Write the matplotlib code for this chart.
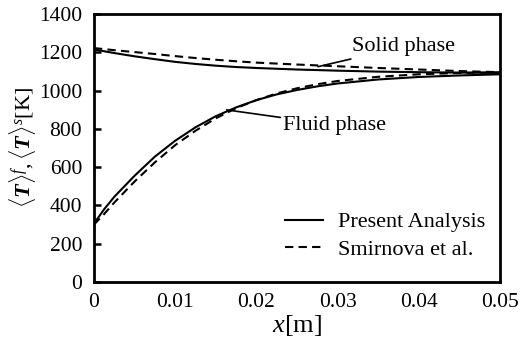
import matplotlib
matplotlib.use("Agg")
import matplotlib.pyplot as plt

plt.rcParams['font.family'] = ['Liberation Serif', 'DejaVu Serif']
plt.rcParams['mathtext.fontset'] = 'custom'
plt.rcParams['mathtext.rm'] = 'Liberation Serif'
plt.rcParams['mathtext.it'] = 'Liberation Serif:italic'
plt.rcParams['mathtext.bf'] = 'Liberation Serif:bold:italic'

# Data
x_solid = [0, 0.0025, 0.005, 0.0075, 0.01, 0.0125, 0.015, 0.0175, 0.02, 0.025, 0.03, 0.035, 0.04, 0.045, 0.05]
present_solid = [1215, 1196, 1179, 1164, 1150, 1139, 1130, 1123, 1118, 1110, 1104, 1099, 1096, 1094, 1092]
smirnova_solid = [1222, 1211, 1201, 1191, 1180, 1170, 1161, 1153, 1146, 1136, 1127, 1118, 1110, 1102, 1096]

x_fluid = [0, 0.00125, 0.0025, 0.005, 0.0075, 0.01, 0.0125, 0.015, 0.0175, 0.02, 0.0225,
           0.025, 0.0275, 0.03, 0.035, 0.04, 0.045, 0.05]
present_fluid = [305, 380, 445, 555, 655, 738, 808, 866, 912, 950, 980,
                 1003, 1022, 1037, 1058, 1071, 1079, 1085]
smirnova_fluid = [300, 355, 415, 525, 625, 715, 790, 855, 908, 950, 985,
                  1012, 1033, 1050, 1072, 1085, 1092, 1096]

xticks = [0, 0.01, 0.02, 0.03, 0.04, 0.05]
xticklabels = ['0', '0.01', '0.02', '0.03', '0.04', '0.05']
yticks = [0, 200, 400, 600, 800, 1000, 1200, 1400]

fig = plt.figure(figsize=(5.23, 3.5), dpi=100)
ax = fig.add_axes([0.1797, 0.1943, 0.956 - 0.1797, 0.96 - 0.1943])

lw = 1.5
dash = (0, (4, 2.5))
ax.plot(x_solid, present_solid, color='black', lw=lw, label='Present Analysis')
ax.plot(x_solid, smirnova_solid, color='black', lw=lw, ls=dash, label='Smirnova et al.')
ax.plot(x_fluid, present_fluid, color='black', lw=lw)
ax.plot(x_fluid, smirnova_fluid, color='black', lw=lw, ls=dash)

ax.set_xlim(0, 0.05)
ax.set_ylim(0, 1400)
ax.set_xticks(xticks)
ax.set_xticklabels(xticklabels)
ax.set_yticks(yticks)
ax.tick_params(axis='x', length=0, pad=8, labelsize=15.5)
ax.tick_params(axis='y', direction='in', length=5, width=1.8, pad=8.5, labelsize=15.5)
for s in ax.spines.values():
    s.set_linewidth(2)

ax.set_xlabel(r'$x$[m]', fontsize=19, labelpad=1)
ax.set_ylabel(r'$\langle\mathbf{T}\rangle^{f}, \langle\mathbf{T}\rangle^{s}$[K]', fontsize=16, labelpad=1)

# annotations
ax.annotate('Solid phase', xy=(0.02759, 1125), xytext=(0.0318, 1229),
            fontsize=16, va='center', ha='left',
            arrowprops=dict(arrowstyle='-', color='black', lw=1.2, shrinkA=0, shrinkB=0))
ax.annotate('Fluid phase', xy=(0.01634, 899), xytext=(0.0233, 820),
            fontsize=16, va='center', ha='left',
            arrowprops=dict(arrowstyle='-', color='black', lw=1.2, shrinkA=0, shrinkB=0))

leg = ax.legend(loc='upper left', frameon=False, fontsize=16, handlelength=1.7,
                handletextpad=0.68, labelspacing=0.3, borderpad=0, borderaxespad=0,
                bbox_to_anchor=(0.47, 0.262))

fig.savefig('out.png', dpi=100)
